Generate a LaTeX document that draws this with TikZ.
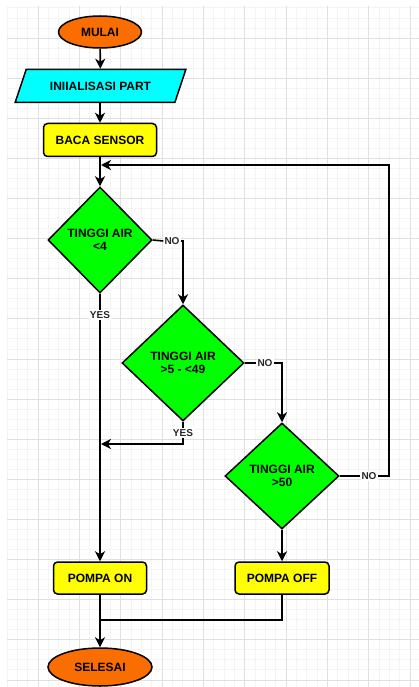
\documentclass[tikz,border=0pt]{standalone}
\usepackage{fontspec}
\setmainfont{Liberation Sans}
\usetikzlibrary{shapes.geometric,arrows.meta}
\definecolor{orng}{HTML}{FA6E00}
\definecolor{cyn}{HTML}{00FFFF}
\definecolor{ylw}{HTML}{FFFF00}
\definecolor{grn}{HTML}{00FF00}
\definecolor{gminor}{HTML}{F4F4F4}
\definecolor{gmajor}{HTML}{E0E0E0}
\begin{document}
\begin{tikzpicture}[x=1pt,y=-1pt,
  base/.style={draw=black, line width=1.5pt, font=\fontsize{12}{13}\selectfont\bfseries, align=center, inner sep=2pt},
  term/.style={base, ellipse, fill=orng},
  io/.style={base, trapezium, trapezium left angle=58, trapezium right angle=122, trapezium stretches=true, fill=cyn},
  proc/.style={base, rectangle, rounded corners=4pt, fill=ylw},
  dec/.style={base, diamond, fill=grn, inner sep=0pt},
  lbl/.style={fill=white, inner sep=1pt, font=\fontsize{10}{11}\selectfont\bfseries, text=black!85},
  conn/.style={draw=black, line width=1.6pt},
  arr/.style={conn, -{Stealth[length=10pt,width=10pt,inset=3pt]}}
]
\useasboundingbox (0,0) rectangle (419,687);
\fill[white] (0,0) rectangle (419,687);
% grid
\begin{scope}
\clip (7,6) rectangle (419,687);
\foreach \i in {0,...,41} {
  \draw[gminor, line width=0.8pt] ({7+10.333*\i},6) -- ({7+10.333*\i},687);
}
\foreach \i in {0,...,69} {
  \draw[gminor, line width=0.8pt] (7,{7.9+10.03*\i}) -- (419,{7.9+10.03*\i});
}
\foreach \i in {0,...,10} {
  \draw[gmajor, line width=0.8pt] ({38+41.33*\i},6) -- ({38+41.33*\i},687);
}
\foreach \i in {0,...,17} {
  \draw[gmajor, line width=0.8pt] (7,{38+40.12*\i}) -- (419,{38+40.12*\i});
}
\end{scope}

% nodes
\node[term, minimum width=83, minimum height=32] (mulai) at (100,32) {MULAI};
\node[io, minimum width=171, minimum height=33] (init) at (100.5,86) {INIIALISASI PART};
\node[proc, minimum width=113, minimum height=33] (baca) at (100,140) {BACA SENSOR};
\node[dec, minimum width=104, minimum height=106] (d1) at (100,240) {TINGGI AIR\\<4};
\node[dec, minimum width=122, minimum height=116] (d2) at (183,363) {TINGGI AIR\\>5 - <49};
\node[dec, minimum width=114, minimum height=106] (d3) at (282,476) {TINGGI AIR\\>50};
\node[proc, minimum width=93, minimum height=32] (pon) at (100,578) {POMPA ON};
\node[proc, minimum width=94, minimum height=32] (poff) at (282,578) {POMPA OFF};
\node[term, minimum width=104, minimum height=38] (selesai) at (100,667) {SELESAI};

% labels
\node[lbl] (no1) at (172,241) {NO};
\node[lbl] (yes1) at (100,315) {YES};
\node[lbl] (no2) at (265,363) {NO};
\node[lbl] (yes2) at (183,433) {YES};
\node[lbl] (no3) at (369,476) {NO};

% junction coordinates
\coordinate (j1) at (100,165);
\coordinate (c1) at (389,165);
\coordinate (j2) at (100,444);
\coordinate (j3) at (100,620);

% connectors
\draw[arr] (mulai) -- (init);
\draw[arr] (init.south -| mulai.south) -- (baca.north);
\draw[arr] (baca) -- (d1);
\draw[conn] (d1.east) -- (no1.west);
\draw[arr] (no1.east) -| (d2.north);
\draw[conn] (d1.south) -- (yes1.north);
\draw[arr] (yes1.south) -- (pon.north);
\draw[conn] (d2.east) -- (no2.west);
\draw[arr] (no2.east) -| (d3.north);
\draw[conn] (d2.south) -- (yes2.north);
\draw[arr] (yes2.south) |- ([xshift=1pt]j2);
\draw[conn] (d3.east) -- (no3.west);
\draw[arr] (no3.east) -| (c1) -- ([xshift=1pt]j1);
\draw[arr] (d3.south) -- (poff.north);
\draw[arr] (pon.south) -- (selesai.north);
\draw[conn] (poff.south) |- (j3);
\end{tikzpicture}
\end{document}
